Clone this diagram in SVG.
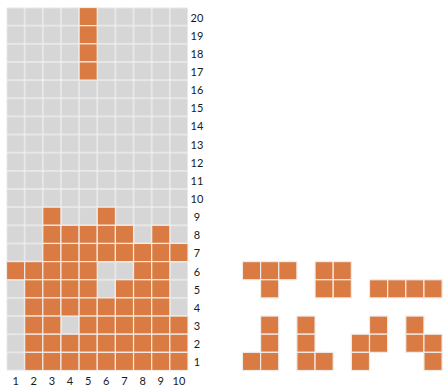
<svg xmlns="http://www.w3.org/2000/svg" width="443" height="388" viewBox="0 0 443 388">
<style>
.o{fill:#d97b42;stroke:#f0ece8;stroke-width:1.2}
.lbl{font-family:Lato,"Open Sans","DejaVu Sans",sans-serif;font-size:11px;fill:#1a1a1a;text-anchor:middle}
</style>
<defs>
<pattern id="gridpat" patternUnits="userSpaceOnUse" x="6.5" y="7.5" width="18.15" height="18.15">
<rect x="0" y="0" width="18.15" height="18.15" fill="#d6d6d6" stroke="#f2f2f2" stroke-width="1.2"/>
</pattern>
<rect id="c" width="18.15" height="18.15"/>
</defs>
<rect width="443" height="388" fill="#ffffff"/>
<g id="board">
<rect x="6.5" y="7.5" width="181.5" height="363" fill="url(#gridpat)"/>
<g id="filled">
<use href="#c" class="o" x="79.1" y="7.5"/>
<use href="#c" class="o" x="79.1" y="25.65"/>
<use href="#c" class="o" x="79.1" y="43.8"/>
<use href="#c" class="o" x="79.1" y="61.95"/>
<use href="#c" class="o" x="42.8" y="207.15"/>
<use href="#c" class="o" x="97.25" y="207.15"/>
<use href="#c" class="o" x="42.8" y="225.3"/>
<use href="#c" class="o" x="60.95" y="225.3"/>
<use href="#c" class="o" x="79.1" y="225.3"/>
<use href="#c" class="o" x="97.25" y="225.3"/>
<use href="#c" class="o" x="115.4" y="225.3"/>
<use href="#c" class="o" x="151.7" y="225.3"/>
<use href="#c" class="o" x="42.8" y="243.45"/>
<use href="#c" class="o" x="60.95" y="243.45"/>
<use href="#c" class="o" x="79.1" y="243.45"/>
<use href="#c" class="o" x="97.25" y="243.45"/>
<use href="#c" class="o" x="115.4" y="243.45"/>
<use href="#c" class="o" x="133.55" y="243.45"/>
<use href="#c" class="o" x="151.7" y="243.45"/>
<use href="#c" class="o" x="169.85" y="243.45"/>
<use href="#c" class="o" x="6.5" y="261.6"/>
<use href="#c" class="o" x="24.65" y="261.6"/>
<use href="#c" class="o" x="42.8" y="261.6"/>
<use href="#c" class="o" x="60.95" y="261.6"/>
<use href="#c" class="o" x="79.1" y="261.6"/>
<use href="#c" class="o" x="133.55" y="261.6"/>
<use href="#c" class="o" x="151.7" y="261.6"/>
<use href="#c" class="o" x="24.65" y="279.75"/>
<use href="#c" class="o" x="42.8" y="279.75"/>
<use href="#c" class="o" x="60.95" y="279.75"/>
<use href="#c" class="o" x="79.1" y="279.75"/>
<use href="#c" class="o" x="115.4" y="279.75"/>
<use href="#c" class="o" x="133.55" y="279.75"/>
<use href="#c" class="o" x="151.7" y="279.75"/>
<use href="#c" class="o" x="24.65" y="297.9"/>
<use href="#c" class="o" x="42.8" y="297.9"/>
<use href="#c" class="o" x="60.95" y="297.9"/>
<use href="#c" class="o" x="79.1" y="297.9"/>
<use href="#c" class="o" x="97.25" y="297.9"/>
<use href="#c" class="o" x="115.4" y="297.9"/>
<use href="#c" class="o" x="133.55" y="297.9"/>
<use href="#c" class="o" x="151.7" y="297.9"/>
<use href="#c" class="o" x="24.65" y="316.05"/>
<use href="#c" class="o" x="42.8" y="316.05"/>
<use href="#c" class="o" x="79.1" y="316.05"/>
<use href="#c" class="o" x="97.25" y="316.05"/>
<use href="#c" class="o" x="115.4" y="316.05"/>
<use href="#c" class="o" x="133.55" y="316.05"/>
<use href="#c" class="o" x="151.7" y="316.05"/>
<use href="#c" class="o" x="169.85" y="316.05"/>
<use href="#c" class="o" x="24.65" y="334.2"/>
<use href="#c" class="o" x="42.8" y="334.2"/>
<use href="#c" class="o" x="60.95" y="334.2"/>
<use href="#c" class="o" x="79.1" y="334.2"/>
<use href="#c" class="o" x="97.25" y="334.2"/>
<use href="#c" class="o" x="115.4" y="334.2"/>
<use href="#c" class="o" x="133.55" y="334.2"/>
<use href="#c" class="o" x="151.7" y="334.2"/>
<use href="#c" class="o" x="169.85" y="334.2"/>
<use href="#c" class="o" x="24.65" y="352.35"/>
<use href="#c" class="o" x="42.8" y="352.35"/>
<use href="#c" class="o" x="60.95" y="352.35"/>
<use href="#c" class="o" x="79.1" y="352.35"/>
<use href="#c" class="o" x="97.25" y="352.35"/>
<use href="#c" class="o" x="115.4" y="352.35"/>
<use href="#c" class="o" x="133.55" y="352.35"/>
<use href="#c" class="o" x="151.7" y="352.35"/>
<use href="#c" class="o" x="169.85" y="352.35"/>
</g>
</g>
<g id="row-labels" class="lbl">
<text x="197" y="21.5">20</text>
<text x="197" y="39.65">19</text>
<text x="197" y="57.8">18</text>
<text x="197" y="75.95">17</text>
<text x="197" y="94.1">16</text>
<text x="197" y="112.25">15</text>
<text x="197" y="130.4">14</text>
<text x="197" y="148.55">13</text>
<text x="197" y="166.7">12</text>
<text x="197" y="184.85">11</text>
<text x="197" y="203">10</text>
<text x="197" y="221.15">9</text>
<text x="197" y="239.3">8</text>
<text x="197" y="257.45">7</text>
<text x="197" y="275.6">6</text>
<text x="197" y="293.75">5</text>
<text x="197" y="311.9">4</text>
<text x="197" y="330.05">3</text>
<text x="197" y="348.2">2</text>
<text x="197" y="366.35">1</text>
</g>
<g id="col-labels" class="lbl">
<text x="15.6" y="385">1</text>
<text x="33.7" y="385">2</text>
<text x="51.9" y="385">3</text>
<text x="70" y="385">4</text>
<text x="88.2" y="385">5</text>
<text x="106.3" y="385">6</text>
<text x="124.5" y="385">7</text>
<text x="142.6" y="385">8</text>
<text x="160.8" y="385">9</text>
<text x="178.9" y="385">10</text>
</g>
<g id="pieces">
<g id="piece-T">
<use href="#c" class="o" x="242.45" y="261.6"/>
<use href="#c" class="o" x="260.6" y="261.6"/>
<use href="#c" class="o" x="278.75" y="261.6"/>
<use href="#c" class="o" x="260.6" y="279.75"/>
</g>
<g id="piece-O">
<use href="#c" class="o" x="315.05" y="261.6"/>
<use href="#c" class="o" x="333.2" y="261.6"/>
<use href="#c" class="o" x="315.05" y="279.75"/>
<use href="#c" class="o" x="333.2" y="279.75"/>
</g>
<g id="piece-I">
<use href="#c" class="o" x="369.5" y="279.75"/>
<use href="#c" class="o" x="387.65" y="279.75"/>
<use href="#c" class="o" x="405.8" y="279.75"/>
<use href="#c" class="o" x="423.95" y="279.75"/>
</g>
<g id="piece-J">
<use href="#c" class="o" x="260.6" y="316.05"/>
<use href="#c" class="o" x="260.6" y="334.2"/>
<use href="#c" class="o" x="242.45" y="352.35"/>
<use href="#c" class="o" x="260.6" y="352.35"/>
</g>
<g id="piece-L">
<use href="#c" class="o" x="296.9" y="316.05"/>
<use href="#c" class="o" x="296.9" y="334.2"/>
<use href="#c" class="o" x="296.9" y="352.35"/>
<use href="#c" class="o" x="315.05" y="352.35"/>
</g>
<g id="piece-S">
<use href="#c" class="o" x="369.5" y="316.05"/>
<use href="#c" class="o" x="351.35" y="334.2"/>
<use href="#c" class="o" x="369.5" y="334.2"/>
<use href="#c" class="o" x="351.35" y="352.35"/>
</g>
<g id="piece-Z">
<use href="#c" class="o" x="405.8" y="316.05"/>
<use href="#c" class="o" x="405.8" y="334.2"/>
<use href="#c" class="o" x="423.95" y="334.2"/>
<use href="#c" class="o" x="423.95" y="352.35"/>
</g>
</g>
</svg>
